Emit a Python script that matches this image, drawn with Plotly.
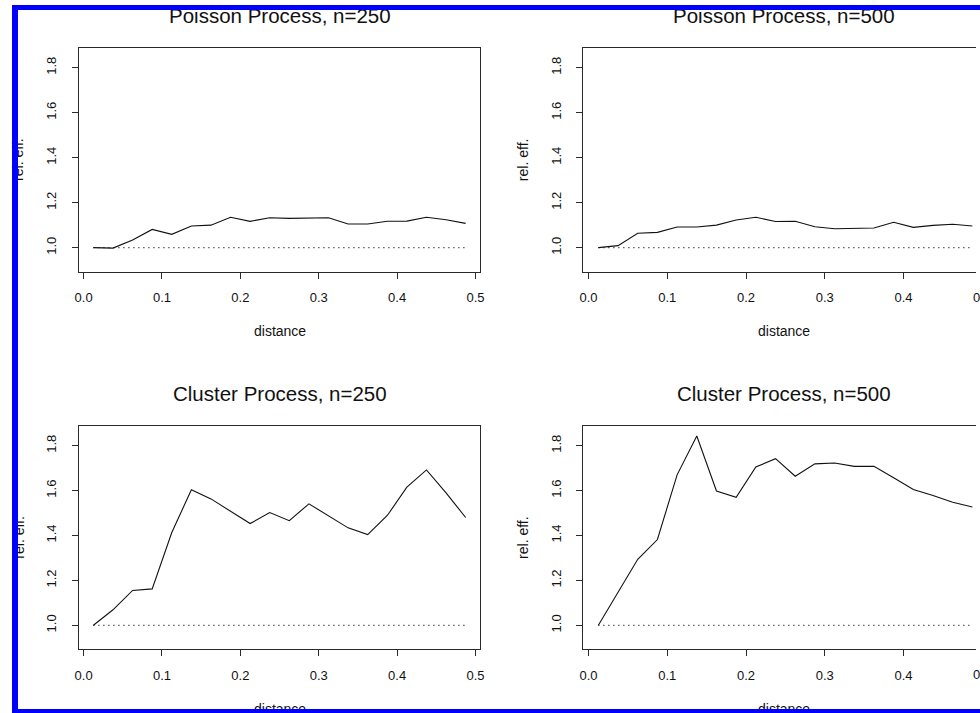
import plotly.graph_objects as go

W, H = 980, 713

# ---------------- data ----------------
distance = [0.0125, 0.0375, 0.0625, 0.0875, 0.1125, 0.1375, 0.1625, 0.1875,
            0.2125, 0.2375, 0.2625, 0.2875, 0.3125, 0.3375, 0.3625, 0.3875,
            0.4125, 0.4375, 0.4625, 0.4875]

poisson_250 = [1.000, 0.998, 1.034, 1.081, 1.059, 1.096, 1.100, 1.135,
               1.117, 1.133, 1.130, 1.130, 1.133, 1.105, 1.105, 1.117,
               1.118, 1.135, 1.124, 1.108]

poisson_500 = [1.000, 1.009, 1.064, 1.068, 1.092, 1.092, 1.100, 1.123,
               1.135, 1.116, 1.117, 1.093, 1.084, 1.086, 1.087, 1.113,
               1.090, 1.099, 1.104, 1.096]

cluster_250 = [1.000, 1.069, 1.155, 1.162, 1.413, 1.604, 1.563, 1.506,
               1.453, 1.502, 1.466, 1.541, 1.489, 1.434, 1.404, 1.489,
               1.615, 1.692, 1.590, 1.480]

cluster_500 = [1.000, 1.148, 1.294, 1.382, 1.670, 1.843, 1.598, 1.570,
               1.705, 1.742, 1.664, 1.719, 1.723, 1.708, 1.708, 1.657,
               1.605, 1.578, 1.548, 1.527]

ref_x = [0.0125, 0.4875]
ref_y = [1.0, 1.0]

titles = ["Poisson Process, n=250", "Poisson Process, n=500",
          "Cluster Process, n=250", "Cluster Process, n=500"]
series = [poisson_250, poisson_500, cluster_250, cluster_500]

x_ticks = [0.0, 0.1, 0.2, 0.3, 0.4, 0.5]
x_ticktext = ["0.0", "0.1", "0.2", "0.3", "0.4", "0.5"]
y_ticks = [1.0, 1.2, 1.4, 1.6, 1.8]
y_ticktext = ["1.0", "1.2", "1.4", "1.6", "1.8"]
x_label = "distance"
y_label = "rel. eff."

# ---------------- layout geometry (pixels) ----------------
FONT = "Liberation Sans, Arial, Helvetica, sans-serif"
INK = "#111111"
BOX = "#2a2a2a"

# (left, right, top, bottom) of each plot box, pixels
boxes = [
    (75.3, 480.3, 47.7, 271.7),
    (583.7, 980.0, 47.7, 271.7),
    (75.3, 480.3, 425.7, 649.3),
    (583.7, 980.0, 425.7, 649.3),
]
x_ranges = [[-0.0063, 0.5063], [-0.0071, 0.4921],
            [-0.0063, 0.5063], [-0.0071, 0.4921]]
y_range = [0.893, 1.889]


def fx(p):
    return p / W


def fy(p):
    return 1 - p / H


fig = go.Figure()
annotations = []

for i, (vals, title, box) in enumerate(zip(series, titles, boxes)):
    n = "" if i == 0 else str(i + 1)
    xa, ya = "x" + n, "y" + n
    left, right, top, bottom = box
    right_panel = i in (1, 3)

    fig.add_trace(go.Scatter(x=ref_x, y=ref_y, mode="lines", xaxis=xa, yaxis=ya,
                             line=dict(color=INK, width=1.2, dash="1px,4px"),
                             hoverinfo="skip"))
    fig.add_trace(go.Scatter(x=distance, y=vals, mode="lines", xaxis=xa, yaxis=ya,
                             line=dict(color=INK, width=1.1)))

    common = dict(showgrid=False, zeroline=False, showline=True,
                  linecolor=BOX, linewidth=1, ticks="outside", ticklen=6,
                  tickwidth=1, tickcolor=BOX,
                  tickfont=dict(family=FONT, size=13, color=INK))
    fig.update_layout(**{
        "xaxis" + n: dict(common, domain=[fx(left), fx(right)],
                          range=x_ranges[i], tickvals=x_ticks,
                          ticktext=x_ticktext, mirror=True,
                          anchor=ya, ticklabelstandoff=8),
        "yaxis" + n: dict(common, domain=[fy(bottom), fy(top)],
                          range=y_range, tickvals=y_ticks,
                          ticktext=y_ticktext, tickangle=-90,
                          mirror=(not right_panel), anchor=xa,
                          ticklabelstandoff=10),
    })

    cx = (left + (right if not right_panel else left + 405)) / 2
    # panel title
    annotations.append(dict(text=title, xref="paper", yref="paper",
                            x=fx(cx), y=fy(top - 32.5), xanchor="center",
                            yanchor="middle", showarrow=False,
                            font=dict(family=FONT, size=20.5, color=INK)))
    # x axis title
    annotations.append(dict(text=x_label, xref="paper", yref="paper",
                            x=fx(cx), y=fy(bottom + 59.5), xanchor="center",
                            yanchor="middle", showarrow=False,
                            font=dict(family=FONT, size=14, color=INK)))
    # y axis title
    annotations.append(dict(text=y_label, xref="paper", yref="paper",
                            x=fx(left - 61), y=fy((top + bottom) / 2),
                            xanchor="center", yanchor="middle",
                            textangle=-90, showarrow=False,
                            font=dict(family=FONT, size=14, color=INK)))
    if right_panel:
        # last tick label, cut by the page edge
        annotations.append(dict(text="0.5", xref="paper", yref="paper",
                                x=fx(986), y=fy(bottom + 25.5),
                                xanchor="center", yanchor="middle",
                                showarrow=False,
                                font=dict(family=FONT, size=13, color=INK)))

# blue frame drawn last, over the texts
BLUE = "#0000ff"
frame = [
    (8, 5, 6, 708),     # left bar: x, y, w, h
    (8, 5, 972, 5),     # top bar
    (8, 709, 972, 4),   # bottom bar
]
for (x0, y0, w, h) in frame:
    annotations.append(dict(text=" ", xref="paper", yref="paper",
                            x=fx(x0), y=fy(y0), xanchor="left", yanchor="top",
                            width=w, height=h, bgcolor=BLUE, borderpad=0,
                            borderwidth=0, showarrow=False,
                            font=dict(size=1, color=BLUE)))

fig.update_layout(
    width=W, height=H,
    margin=dict(l=0, r=0, t=0, b=0),
    paper_bgcolor="white", plot_bgcolor="white",
    showlegend=False,
    annotations=annotations,
)

fig.write_html("out.html")
